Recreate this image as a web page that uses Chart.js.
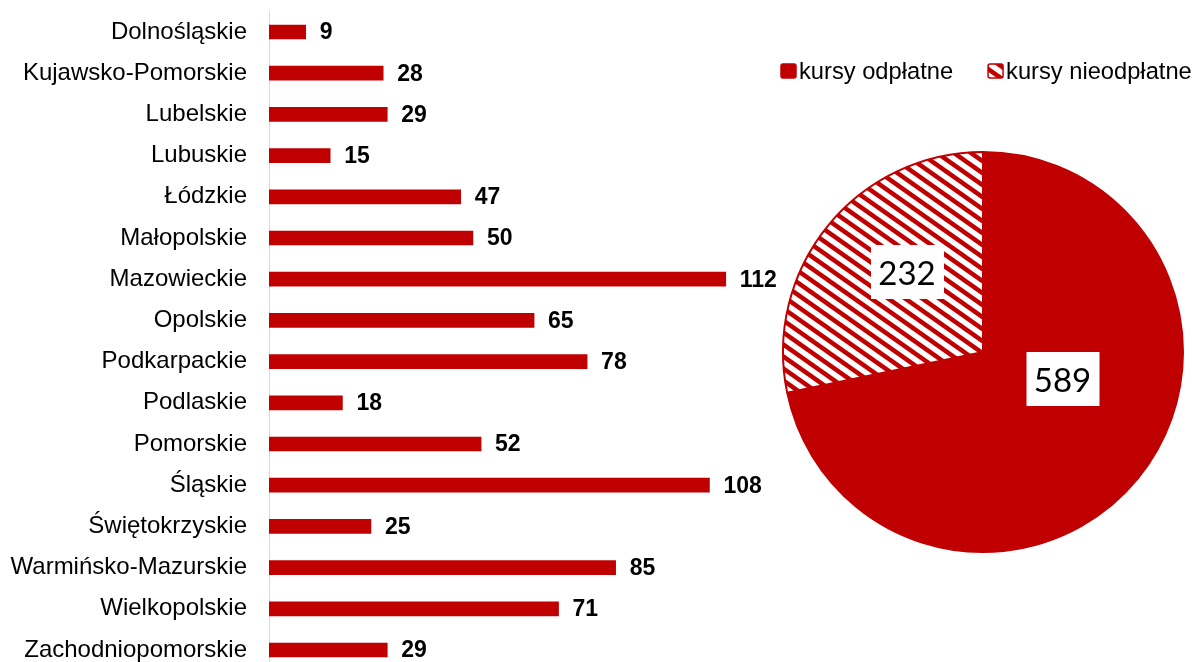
<!DOCTYPE html>
<html>
<head>
<meta charset="utf-8">
<script src="https://cdn.jsdelivr.net/npm/chart.js@4"></script>
<style>
  html, body { margin: 0; padding: 0; background: #fff; width: 1196px; height: 662px; overflow: hidden; }
  #barWrap { position: absolute; left: 0; top: 0; width: 791px; height: 690px; }
  #pieWrap { position: absolute; left: 760px; top: 40px; width: 436px; height: 530px; }
</style>
</head>
<body>
<div id="barWrap"><canvas id="bar"></canvas></div>
<div id="pieWrap"><canvas id="pie"></canvas></div>
<script>
// ---- data ----
const categories = ['Dolnośląskie','Kujawsko-Pomorskie','Lubelskie','Lubuskie','Łódzkie','Małopolskie','Mazowieckie','Opolskie','Podkarpackie','Podlaskie','Pomorskie','Śląskie','Świętokrzyskie','Warmińsko-Mazurskie','Wielkopolskie','Zachodniopomorskie'];
const values = [9, 28, 29, 15, 47, 50, 112, 65, 78, 18, 52, 108, 25, 85, 71, 29];
const pieLabels = ['kursy odpłatne', 'kursy nieodpłatne'];
const pieValues = [589, 232];

// ---- style ----
const RED = '#C00000';
const FONT = "'Liberation Sans', Arial, sans-serif";

function makeHatch() {
  const w = 17, h = 12;
  const c = document.createElement('canvas');
  c.width = w; c.height = h;
  const g = c.getContext('2d');
  g.fillStyle = '#fff';
  g.fillRect(0, 0, w, h);
  g.strokeStyle = RED;
  g.lineWidth = 4.5;
  for (const o of [-w, 0, w]) {
    g.beginPath();
    g.moveTo(o - w, -h);
    g.lineTo(o + 2 * w, 2 * h);
    g.stroke();
  }
  return g.createPattern(c, 'repeat');
}
const hatch = makeHatch();

const barValueLabels = {
  id: 'barValueLabels',
  afterDatasetsDraw(chart) {
    const ctx = chart.ctx;
    const meta = chart.getDatasetMeta(0);
    ctx.save();
    ctx.font = "bold 23px " + FONT;
    ctx.fillStyle = '#000';
    ctx.textAlign = 'left';
    ctx.textBaseline = 'middle';
    meta.data.forEach((bar, i) => {
      ctx.fillText(String(chart.data.datasets[0].data[i]), bar.x + 14, bar.y + 1);
    });
    ctx.restore();
  }
};

new Chart(document.getElementById('bar'), {
  type: 'bar',
  data: {
    labels: categories,
    datasets: [{ data: values, backgroundColor: RED, barThickness: 14, borderWidth: 0 }]
  },
  options: {
    indexAxis: 'y',
    responsive: true,
    maintainAspectRatio: false,
    animation: false,
    events: [],
    layout: { padding: { top: 11.4, bottom: 19.4, left: 0, right: 0 } },
    plugins: { legend: { display: false }, tooltip: { enabled: false } },
    scales: {
      x: { display: false, min: 0, max: 128 },
      y: {
        afterFit(scale) { scale.width = 269; scale.paddingTop = 0; scale.paddingBottom = 0; },
        grid: { display: false, drawTicks: false, tickLength: 0 },
        border: { display: true, color: '#d9d9d9', width: 1 },
        ticks: { padding: 22, color: '#000', autoSkip: false, font: { family: FONT, size: 24 } }
      }
    }
  },
  plugins: [barValueLabels]
});

const labelOffsets = [[79.5, 28], [-76, -79]];
const pieExtras = {
  id: 'pieExtras',
  afterDatasetsDraw(chart) {
    const ctx = chart.ctx;
    const meta = chart.getDatasetMeta(0);
    ctx.save();
    meta.data.forEach((arc, i) => {
      const cx = arc.x + labelOffsets[i][0];
      const cy = arc.y + labelOffsets[i][1];
      ctx.fillStyle = '#fff';
      ctx.fillRect(cx - 36, cy - 28, 73, 54);
      ctx.fillStyle = '#000';
      ctx.font = "33px Lato, 'Open Sans', sans-serif";
      ctx.textAlign = 'center';
      ctx.textBaseline = 'alphabetic';
      ctx.fillText(String(chart.data.datasets[0].data[i]), cx, cy + 12);
    });
    // legend
    ctx.font = "23.7px " + FONT;
    ctx.textAlign = 'left';
    ctx.textBaseline = 'middle';
    let x = 21;
    const y = 31;
    chart.data.labels.forEach((lab, i) => {
      ctx.beginPath();
      if (ctx.roundRect) ctx.roundRect(x, y - 7, 15, 14, 2); else ctx.rect(x, y - 7, 15, 14);
      ctx.fillStyle = chart.data.datasets[0].backgroundColor[i];
      ctx.fill();
      ctx.lineWidth = 1.5;
      ctx.strokeStyle = RED;
      ctx.stroke();
      ctx.fillStyle = '#000';
      ctx.fillText(lab, x + 18, y + 1);
      x += 18 + ctx.measureText(lab).width + 35;
    });
    ctx.restore();
  }
};

new Chart(document.getElementById('pie'), {
  type: 'pie',
  data: {
    labels: pieLabels,
    datasets: [{ data: pieValues, backgroundColor: [RED, hatch], borderColor: RED, borderWidth: 2 }]
  },
  options: {
    responsive: true,
    maintainAspectRatio: false,
    animation: false,
    events: [],
    layout: { padding: { top: 111, bottom: 17, left: 22, right: 12 } },
    plugins: { legend: { display: false }, tooltip: { enabled: false } }
  },
  plugins: [pieExtras]
});
</script>
</body>
</html>
